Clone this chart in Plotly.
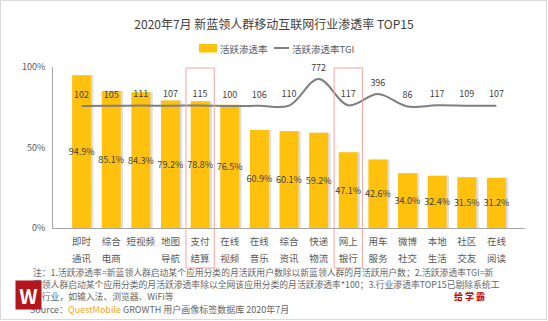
import plotly.graph_objects as go

# ---- data ----
categories = ["即时<br>通讯", "综合<br>电商", "短视频", "地图<br>导航", "支付<br>结算",
              "在线<br>视频", "在线<br>音乐", "综合<br>资讯", "快递<br>物流", "网上<br>银行",
              "用车<br>服务", "微博<br>社交", "本地<br>生活", "社区<br>交友", "在线<br>阅读"]
penetration = [94.9, 85.1, 84.3, 79.2, 78.8, 76.5, 60.9, 60.1, 59.2, 47.1,
               42.6, 34.0, 32.4, 31.5, 31.2]
tgi = [102, 105, 111, 107, 115, 100, 106, 110, 772, 117, 396, 86, 117, 109, 107]
highlighted = ["支付<br>结算", "网上<br>银行"]
y_ticks = [0, 50, 100]
y_ticklabels = ["0%", "50%", "100%"]

title_text = "2020年7月 新蓝领人群移动互联网行业渗透率 TOP15"
series_names = ["活跃渗透率", "活跃渗透率TGI"]
notes = [
    "注：1.活跃渗透率=新蓝领人群启动某个应用分类的月活跃用户数除以新蓝领人群的月活跃用户数；2.活跃渗透率TGI=新",
    "蓝领人群启动某个应用分类的月活跃渗透率除以全网该应用分类的月活跃渗透率*100；3.行业渗透率TOP15已剔除系统工",
    "具行业，如输入法、浏览器、WiFi等",
]

# ---- geometry ----
W, H = 548, 321
L, R, T, B = 53, 23, 67, 93
PW, PH = W - L - R, H - T - B
FONT = "Noto Sans CJK SC, Noto Sans, sans-serif"
GRAY = "#404040"


def xp(px):
    return (px - L) / PW


def yp(py):
    return (H - B - py) / PH


# Secondary axis scale so the TGI curve sits in a narrow band near the top
k = 27 / 672.0
y2_range = [100 - (H - B - 106) / k, 772 + (79 - T) / k]

BAR_W = 0.64
ticktext = ["<br>".join("<span style='font-size:9.5px'>%s</span>" % part for part in c.split("<br>"))
            for c in categories]

fig = go.Figure()

# soft shadow to the right of each bar
fig.add_trace(go.Bar(
    x=categories, y=penetration, width=BAR_W, offset=-BAR_W / 2 + 0.08,
    marker=dict(color="rgba(0,0,0,0.13)", line=dict(width=0)),
    hoverinfo="skip", showlegend=False,
))
fig.add_trace(go.Bar(
    x=categories, y=penetration, width=BAR_W, offset=-BAR_W / 2,
    name=series_names[0],
    marker=dict(color="#FEC10E", line=dict(width=0)),
    text=[f"{v:.1f}%" for v in penetration], textposition="inside",
    insidetextanchor="middle", textangle=0, constraintext="none",
    textfont=dict(size=9, color=GRAY, family=FONT),
    showlegend=False,
))
# invisible markers give the value labels their spacing above the curve
fig.add_trace(go.Scatter(
    x=categories, y=tgi, yaxis="y2", name=series_names[1],
    mode="lines+markers+text", line=dict(color="#7F7F7F", width=2, shape="spline", smoothing=1),
    marker=dict(size=8, color="rgba(0,0,0,0)"),
    text=[str(v) for v in tgi], textposition="top center",
    textfont=dict(size=9, color=GRAY, family=FONT),
    showlegend=False, cliponaxis=False,
))

shapes = []
# highlight boxes around selected categories
for c in highlighted:
    i = categories.index(c)
    shapes.append(dict(type="rect", xref="x", yref="paper",
                       x0=i - 0.477, x1=i + 0.477, y0=yp(268), y1=yp(68),
                       line=dict(color="#F2A59D", width=1), fillcolor="rgba(0,0,0,0)",
                       layer="above"))
# outer frame
shapes.append(dict(type="rect", xref="paper", yref="paper",
                   x0=xp(0.5), x1=xp(546.5), y0=yp(319.5), y1=yp(0.5),
                   line=dict(color="#D9D9D9", width=1)))
# legend swatches
shapes.append(dict(type="rect", xref="paper", yref="paper",
                   x0=xp(199), x1=xp(217), y0=yp(52.5), y1=yp(44),
                   fillcolor="#FEC10E", line=dict(width=0)))
shapes.append(dict(type="line", xref="paper", yref="paper",
                   x0=xp(274), x1=xp(289), y0=yp(48), y1=yp(48),
                   line=dict(color="#7F7F7F", width=2)))

annotations = [
    dict(text=series_names[0], x=xp(218), y=yp(48.5), xanchor="left", yanchor="middle",
         font=dict(size=9.5, color="#595959", family=FONT)),
    dict(text=series_names[1], x=xp(290), y=yp(48.5), xanchor="left", yanchor="middle",
         font=dict(size=9.5, color="#595959", family=FONT)),
]
for line, py in zip(notes, [272.5, 284.5, 296]):
    annotations.append(dict(text=line, x=xp(31), y=yp(py), xanchor="left", yanchor="middle",
                            font=dict(size=8.8, color="#666666", family=FONT)))
annotations.append(dict(
    text="Source：<span style='color:#F7A823'>QuestMobile</span> GROWTH 用户画像标签数据库 2020年7月",
    x=xp(28), y=yp(309), xanchor="left", yanchor="middle",
    font=dict(size=9, color="#666666", family=FONT)))
annotations.append(dict(text="<b>给 学 霸</b>", x=xp(469), y=yp(296), xanchor="center",
                        yanchor="middle", font=dict(size=9, color="#C00000", family=FONT)))
annotations.append(dict(text="<b>W</b>", x=xp(28.5), y=yp(295), xanchor="center", yanchor="middle",
                        width=25, height=28, bgcolor="#B3161C", borderpad=0,
                        font=dict(size=20, color="white", family=FONT)))
for a in annotations:
    a.update(xref="paper", yref="paper", showarrow=False)

fig.update_layout(
    width=W, height=H,
    margin=dict(l=L, r=R, t=T, b=B),
    paper_bgcolor="white", plot_bgcolor="white",
    barmode="overlay",
    font=dict(family=FONT, color="#595959"),
    title=dict(text=title_text, x=0.5, xanchor="center", y=1 - 25 / H, yanchor="middle",
               font=dict(size=12, color=GRAY, family=FONT)),
    xaxis=dict(tickvals=categories, ticktext=ticktext, showline=True, linecolor="#A6A6A6",
               linewidth=1, ticks="", showgrid=False, zeroline=False,
               tickfont=dict(size=13, color="#595959", family=FONT)),
    yaxis=dict(range=[0, 100], tickvals=y_ticks, ticktext=y_ticklabels, showline=True,
               linecolor="#A6A6A6", linewidth=1, showgrid=False, zeroline=False,
               ticks="outside", ticklen=5, tickcolor="rgba(0,0,0,0)",
               tickfont=dict(size=9, color="#595959", family=FONT)),
    yaxis2=dict(range=y2_range, overlaying="y", side="right", visible=False),
    shapes=shapes, annotations=annotations,
    showlegend=False,
)

fig.write_html("out.html")
